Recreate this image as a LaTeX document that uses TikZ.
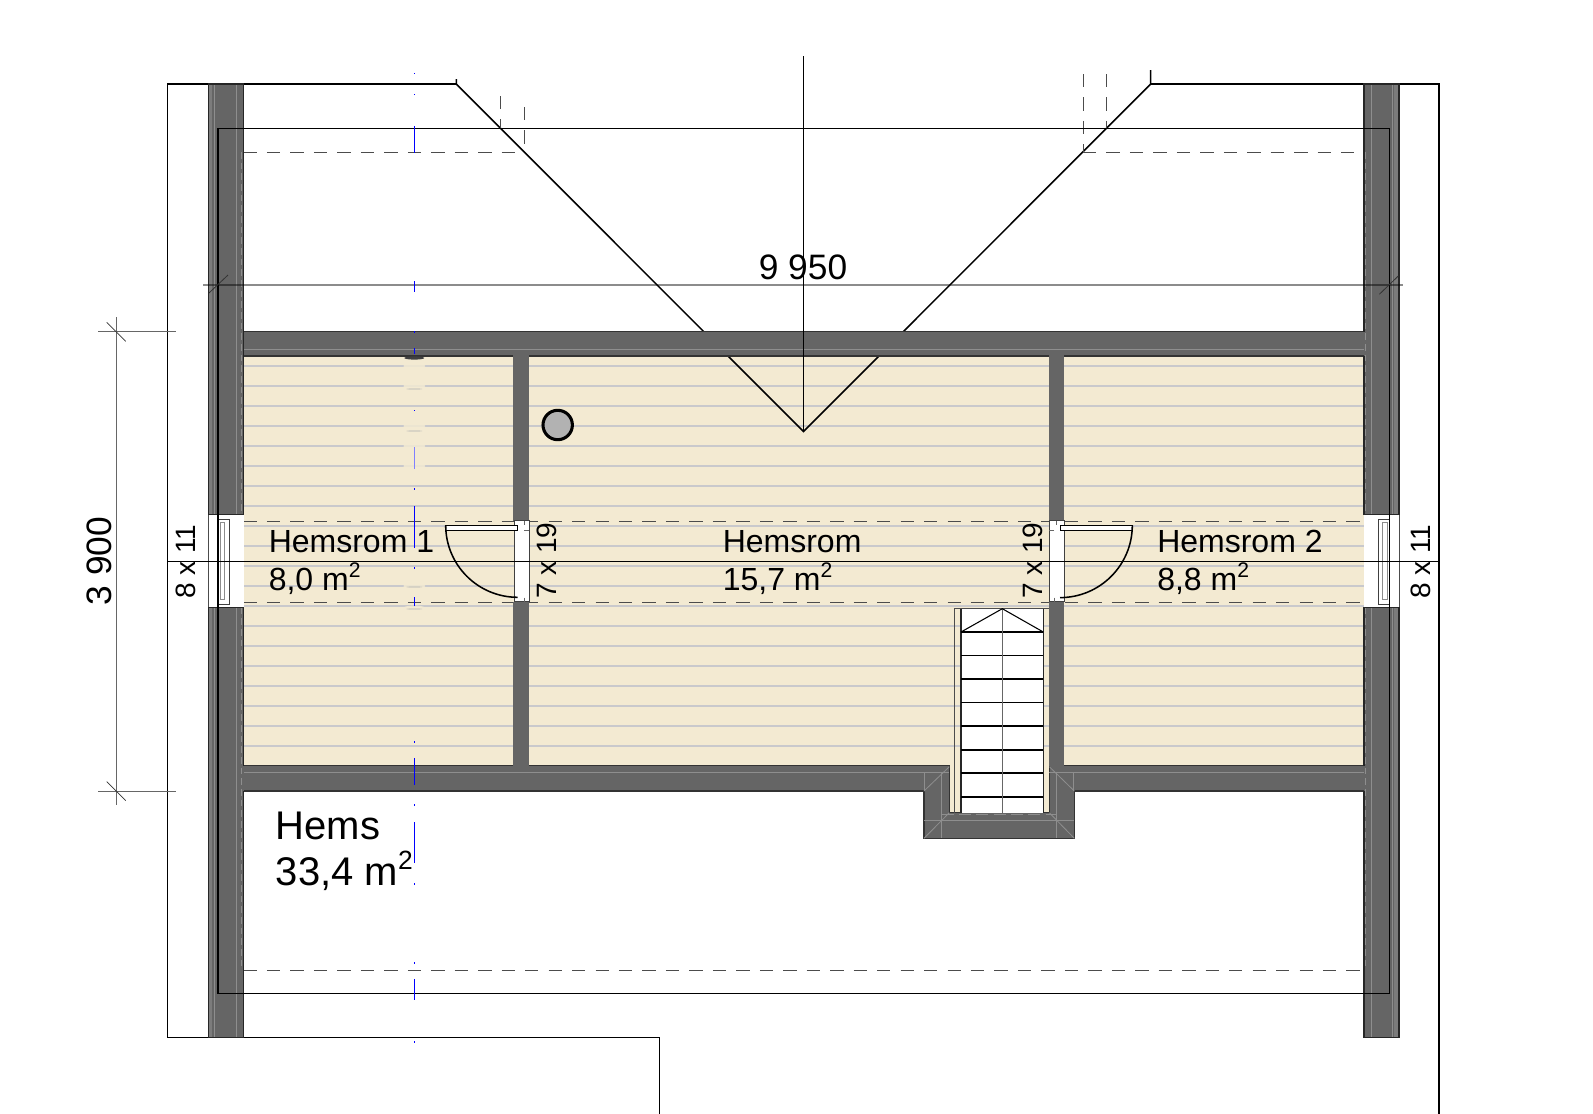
\documentclass[tikz,border=0pt]{standalone}
\usepackage{fontspec}
\setmainfont{Liberation Sans}
\definecolor{wallc}{HTML}{656565}
\definecolor{floorc}{HTML}{F3EAD2}
\definecolor{plankc}{HTML}{C9C9CC}
\definecolor{edgec}{HTML}{7C7C7C}
\definecolor{lightc}{HTML}{8E8E8E}
\newcommand{\sqmm}{m\raisebox{.38em}{\scalebox{.66}{2}}}
\tikzset{
  wallbox/.style={fill=wallc,draw=black!85,line width=1pt},
  thinblack/.style={draw=black,line width=1.15pt},
  dashline/.style={draw=black!70,line width=.7pt,dash pattern=on 10pt off 7.6pt},
  planline/.style={draw=plankc,line width=1.1pt},
  wallmark/.style={draw=lightc,line width=.6pt},
  blueline/.style={draw=blue,line width=.8pt},
  dimline/.style={draw=black!80,line width=.6pt},
  roomlabel/.style={anchor=base west,inner sep=0pt,font=\fontsize{24pt}{28pt}\selectfont},
  biglabel/.style={anchor=base west,inner sep=0pt,font=\fontsize{30pt}{36pt}\selectfont},
  dimlabel/.style={anchor=base,inner sep=0pt,font=\fontsize{26.5pt}{30pt}\selectfont},
  openlabel/.style={anchor=base west,inner sep=0pt,rotate=90,font=\fontsize{21pt}{24pt}\selectfont},
  frameline/.style={draw=black!75,line width=.6pt,fill=white},
}
\begin{document}
\begin{tikzpicture}[x=.75pt,y=-.75pt]
\useasboundingbox (0,0) rectangle (1593,1114);
% floor
\fill[floorc] (243.5,356) rectangle (1364,765.5);
\foreach \k in {0,...,19}{\draw[planline] (243.5,{366+20*\k}) -- (1364,{366+20*\k});}
% pale patches on the floor along the centre line
\foreach \yy in {366,386,426,446,466,586,608}{\fill[floorc,opacity=.85] (414.3,\yy) ellipse[x radius=11,y radius=2.4];}
\foreach \yy in {389,431,587,609}{\fill[black!30,opacity=.6] (414.3,\yy) ellipse[x radius=8,y radius=.7];}
% outer outline
\draw[thinblack] (456.3,84) -- (167.5,84) -- (167.5,1037.7) -- (659.5,1037.7) -- (659.5,1114);
\draw[thinblack] (1150.7,84) -- (1439,84) -- (1439,1114);
% roof lines
\draw[thinblack] (456.3,79) -- (456.3,84) -- (803.5,431.5) -- (1150.7,84) -- (1150.7,70);
% dashed
\draw[dashline] (500.3,96) -- (500.3,128.7);
\draw[dashline] (524,107) -- (524,152);
\draw[dashline] (1083,74) -- (1083,152);
\draw[dashline] (1106.7,74) -- (1106.7,128.7);
\draw[dashline] (243.5,152) -- (524,152);
\draw[dashline] (1083,152) -- (1364,152);
\draw[dashline] (243.5,521) -- (1364,521);
\draw[dashline] (243.5,602.5) -- (1364,602.5);
\draw[dashline] (243.5,970) -- (1364,970);
% walls
\fill[wallc] (243.5,331.7) rectangle (1364,356);
\draw[draw=black!80,line width=.9pt] (243.5,331.7) -- (1364,331.7);
\draw[draw=black!80,line width=.9pt] (243.5,356) -- (513.3,356) (529,356) -- (1049.3,356) (1064.3,356) -- (1364,356);
\draw[wallmark] (243.5,349.3) -- (1364,349.3);
% bottom wall and alcove
\fill[wallc] (243.5,765.5) rectangle (949.3,791);
\fill[wallc] (1049.3,765.5) rectangle (1364,791);
\fill[wallc] (924,765.5) rectangle (1074.3,838.3);
\fill[floorc] (949.3,765) rectangle (1049.3,812.7);
\draw[draw=black!80,line width=.9pt] (243.5,765.5) -- (513.3,765.5) (529,765.5) -- (949.3,765.5) -- (949.3,812.7) -- (1049.3,812.7) -- (1049.3,765.5) (1064.3,765.5) -- (1364,765.5);
\draw[draw=black!80,line width=.9pt] (243.5,791) -- (924,791) -- (924,838.3) -- (1074.3,838.3) -- (1074.3,791) -- (1364,791);
\draw[wallmark] (243.5,772.7) -- (949.3,772.7) (1049.3,772.7) -- (1364,772.7);
\draw[wallmark] (924,791) -- (949.3,766.7) (1049.3,766.7) -- (1074.3,791) (924,838.3) -- (949.3,812.7) (1049.3,812.7) -- (1074.3,838.3);
\draw[wallmark] (924,820) -- (1074.3,820) (941.7,772.7) -- (941.7,838.3) (1056.7,772.7) -- (1056.7,838.3) (924.5,772.7) -- (924.5,791) (1073.8,772.7) -- (1073.8,791);
\draw[wallmark,dash pattern=on 9pt off 4pt] (941.7,814.5) -- (1056.7,814.5);
% partitions
\fill[wallc] (513.3,356) rectangle (529,520.7);
\fill[wallc] (513.3,601.7) rectangle (529,765.5);
\fill[wallc] (1049.3,356) rectangle (1064.3,520.7);
\fill[wallc] (1049.3,601.7) rectangle (1064.3,765.5);
% stairs
\fill[white] (961,608.7) rectangle (1043.3,812.7);
\draw[draw=black!70,line width=.8pt] (954.7,812.7) -- (954.7,608.7) -- (1049,608.7);
\draw[draw=black!85,line width=.9pt] (961,608.7) -- (961,812.7) (1043.3,608.7) -- (1043.3,812.7);
\foreach \yy in {632,655.7,679,702.7,726,750,773,797}{\draw[thinblack] (961,\yy) -- (1043.3,\yy);}
\draw[draw=black!60,line width=1.1pt] (1002.3,608.7) -- (1002.3,812.7);
\draw[thinblack,line width=.8pt] (961,632) -- (1002.3,608.7) -- (1043.3,632);
% side walls
\fill[wallc] (208.3,84) rectangle (243.5,514.7);
\fill[wallc] (208.3,607.7) rectangle (243.5,1037.7);
\fill[wallc] (1364,84) rectangle (1399,514.7);
\fill[wallc] (1364,607.7) rectangle (1399,1037.7);
\fill[edgec] (208.3,84) rectangle (212,514.7);
\fill[edgec] (208.3,607.7) rectangle (212,1037.7);
\fill[edgec] (1394,84) rectangle (1399,514.7);
\fill[edgec] (1394,607.7) rectangle (1399,1037.7);
\draw[wallmark] (214,84) -- (214,514.7) (236,84) -- (236,514.7) (214,607.7) -- (214,1037.7) (236,607.7) -- (236,1037.7);
\draw[wallmark] (1371.7,84) -- (1371.7,514.7) (1371.7,607.7) -- (1371.7,1037.7) (1392,84) -- (1392,514.7) (1392,607.7) -- (1392,1037.7);
\draw[wallmark,dash pattern=on 5pt off 3pt] (241.5,152) -- (241.5,514.7) (241.5,607.7) -- (241.5,970);
\draw[wallmark,dash pattern=on 5pt off 3pt] (1365.5,152) -- (1365.5,514.7) (1365.5,607.7) -- (1365.5,970);
\draw[draw=black!85,line width=1.1pt] (243.5,331.7) -- (243.5,514.7) -- (208.3,514.7) -- (208.3,84) -- (243.5,84) -- (243.5,331.7);
\draw[draw=black!85,line width=1.1pt] (243.5,765.5) -- (243.5,607.7) -- (208.3,607.7) -- (208.3,1037.7) -- (243.5,1037.7) -- (243.5,791);
\draw[draw=black!85,line width=1.1pt] (1364,331.7) -- (1364,84) -- (1399,84) -- (1399,514.7) -- (1364,514.7) -- (1364,356);
\draw[draw=black!85,line width=1.1pt] (1364,765.5) -- (1364,607.7) -- (1399,607.7) -- (1399,1037.7) -- (1364,1037.7) -- (1364,791);
% windows
\fill[white] (208.3,515) rectangle (243.5,607.4);
\draw[draw=black!70,line width=.5pt] (208.3,515) -- (208.3,607.4);
\draw[frameline] (218.3,519) rectangle (229,604);
\draw[draw=black!45,line width=.5pt] (220,522) rectangle (224,599);
\fill[white] (1364,515) rectangle (1399,607.4);
\draw[draw=black!70,line width=.5pt] (1399,515) -- (1399,607.4);
\draw[frameline] (1378.7,519) rectangle (1389.3,604);
\draw[draw=black!45,line width=.5pt] (1382.7,522) rectangle (1387.3,599);
% door openings
\draw[frameline] (514,520.7) rectangle (529,601.7);
\draw[frameline] (1049.3,520.7) rectangle (1064.3,601.7);
\draw[draw=black!60,line width=.5pt] (524,520.7) -- (524,525) (524,530) -- (529,530) (524,597.7) -- (524,601.7);
\draw[draw=black!60,line width=.5pt] (1056,520.7) -- (1056,525) (1054,530) -- (1049.3,530) (1054,597.7) -- (1054,601.7);
% doors
\draw[frameline,draw=black] (445.7,525.3) rectangle (517.7,530.7);
\draw[thinblack] (445.7,525.3) arc[start angle=180,end angle=90,radius=72];
\draw[frameline,draw=black] (1060,525.3) rectangle (1132.3,530.7);
\draw[thinblack] (1132.3,525.3) arc[start angle=0,end angle=90,radius=72.3];
% inner rectangle
\draw[thinblack] (218,128.7) rectangle (1389.3,993.5);
% ridge line
\draw[thinblack] (803.5,56) -- (803.5,431.5);
% long section line
\draw[thinblack] (167.5,561.3) -- (1439,561.3);
% dimension lines
\draw[draw=black,opacity=.45,line width=.9pt] (203.3,285) -- (1403,285);
\draw[dimline] (209,293) -- (228,275);
\draw[dimline] (1379.3,294.3) -- (1398.3,276);
\draw[draw=black!60,line width=.7pt] (98.3,331.7) -- (175.7,331.7);
\draw[draw=black!60,line width=.7pt] (98.3,791) -- (175.7,791);
\draw[draw=black!60,line width=.7pt] (116.3,317) -- (116.3,805);
\draw[dimline] (106.7,322.3) -- (125.7,341.3);
\draw[dimline] (106.7,781.6) -- (125.7,800.6);
% blue centre line
\foreach \yy in {73.5,94.7,332,410.7,489,568,742,805,884,963,1042}{\fill[blue] (413.8,\yy-.7) rectangle (414.8,\yy+.7);}
\foreach \ya/\yb in {126/153,281/292,348/354,506/548,597/606,758/785,822/863,979/1000}{\draw[blueline] (414.3,\ya) -- (414.3,\yb);}
\draw[blue!50,line width=.8pt] (414.3,447) -- (414.3,469);
\fill[black!75] (414.3,358) ellipse[x radius=10,y radius=1.6];
% column
\draw[draw=black,fill=black!30,line width=2.3pt] (557.7,425) circle[radius=14.7];
% labels
\node[dimlabel] (n9950) at (803,279) {9 950};
\node[dimlabel,rotate=90] (n3900) at (111.5,561) {3 900};
\node[roomlabel] (r1) at (268.5,552.3) {Hemsrom 1};
\node[roomlabel] (r1a) at (268.5,590) {8,0 \sqmm};
\node[roomlabel] (r0) at (722.5,552.3) {Hemsrom};
\node[roomlabel] (r0a) at (722.5,590) {15,7 \sqmm};
\node[roomlabel] (r2) at (1157,552.3) {Hemsrom 2};
\node[roomlabel] (r2a) at (1157,590) {8,8 \sqmm};
\node[biglabel] (h) at (275.5,839.3) {Hems};
\node[biglabel] (ha) at (275.5,885) {33,4 \sqmm};
\node[openlabel] (w1) at (195,599) {8 x 11};
\node[openlabel] (w2) at (1430,599) {8 x 11};
\node[openlabel] (d1) at (556,599) {7 x 19};
\node[openlabel] (d2) at (1042,599) {7 x 19};
\end{tikzpicture}
\end{document}
